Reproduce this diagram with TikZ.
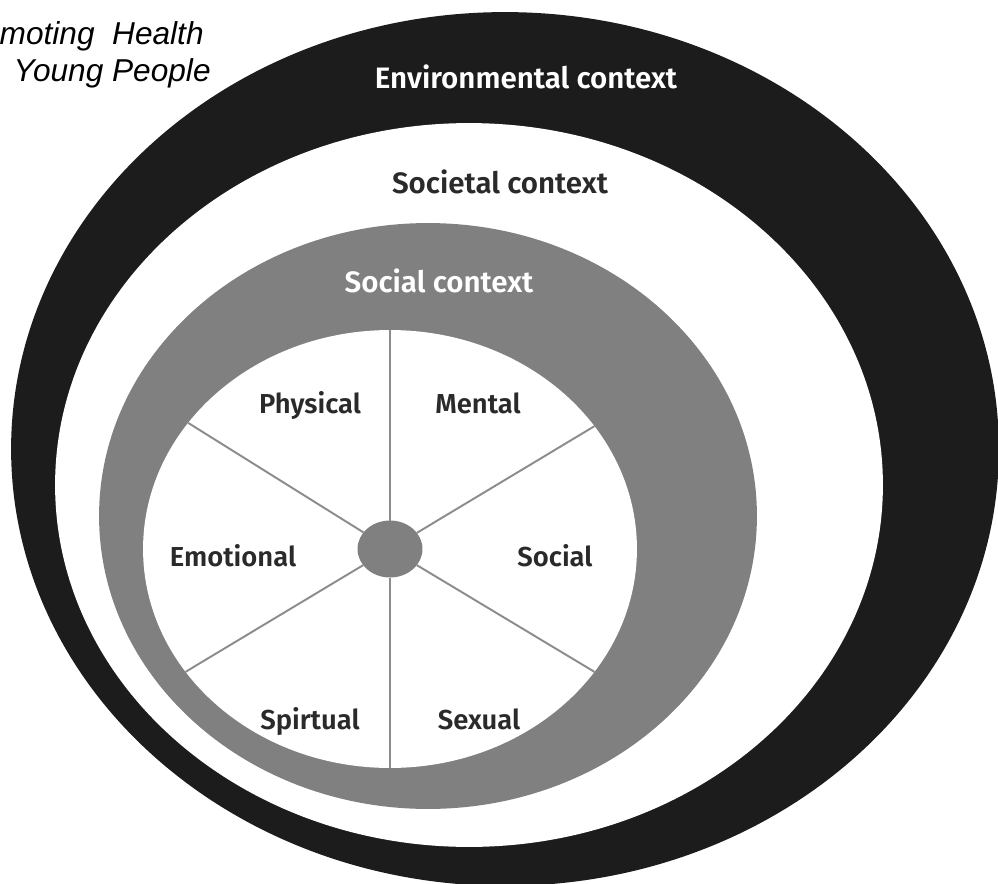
\documentclass[tikz,border=0pt]{standalone}
\usepackage{fontspec}
\setmainfont{Liberation Sans}
\newfontfamily\labelfont{Fira Sans SemiBold}
\usetikzlibrary{shapes.geometric}
\definecolor{envblack}{HTML}{1C1C1C}
\definecolor{socgray}{HTML}{808080}
\definecolor{spokegray}{HTML}{8C8C8C}
\definecolor{textdark}{HTML}{2A2A2A}

\begin{document}
\begin{tikzpicture}[x=0.02cm, y=-0.02cm,
    ctx/.style={font=\labelfont\fontsize{16.8}{20}\selectfont, inner sep=0pt, anchor=base},
    part/.style={font=\labelfont\fontsize{15.6}{19}\selectfont, inner sep=0pt, anchor=base, text=textdark},
    spoke/.style={draw=spokegray, line width=1.1pt}]
  \path[use as bounding box, clip] (0,0) rectangle (998,883);
  \fill[white] (0,0) rectangle (998,883);

  % environmental context
  \fill[envblack] (505,449) ellipse [x radius=9.88cm, y radius=8.74cm];
  % societal context
  \fill[white] (469,485) ellipse [x radius=8.28cm, y radius=7.24cm];
  % social context
  \fill[socgray] (428,516) ellipse [x radius=6.58cm, y radius=5.86cm];

  % the wheel
  \node (wheel) [ellipse, fill=white, minimum width=9.88cm, minimum height=8.76cm, inner sep=0pt, outer sep=0pt] at (390,549) {};
  \node (hub) [ellipse, fill=socgray, minimum width=1.3cm, minimum height=1.14cm, inner sep=0pt, outer sep=0pt] at (390,549) {};

  \draw [spoke] (hub) -- (wheel.90);
  \draw [spoke] (hub) -- (wheel.31.4);
  \draw [spoke] (hub) -- (wheel.-31.4);
  \draw [spoke] (hub) -- (wheel.270);
  \draw [spoke] (hub) -- (wheel.211.4);
  \draw [spoke] (hub) -- (wheel.148.6);

  \node (physical) [part] at (310,413) {Physical};
  \node (mental) [part] at (478,413) {Mental};
  \node (emotional) [part] at (233,566) {Emotional};
  \node (social) [part] at (555,566) {Social};
  \node (spirtual) [part] at (310,729) {Spirtual};
  \node (sexual) [part] at (479,729) {Sexual};

  \node (envctx) [ctx, text=white] at (526,88) {Environmental context};
  \node (socictx) [ctx, text=textdark] at (500,193) {Societal context};
  \node (socctx) [ctx, text=white] at (439,292) {Social context};

  \node (title1) [anchor=base east, font=\itshape\fontsize{18}{21}\selectfont, inner sep=0pt] at (204,44) {moting\ \ Health};
  \node (title2) [anchor=base east, font=\itshape\fontsize{18}{21}\selectfont, inner sep=0pt] at (211,81) {Young People};
\end{tikzpicture}
\end{document}
